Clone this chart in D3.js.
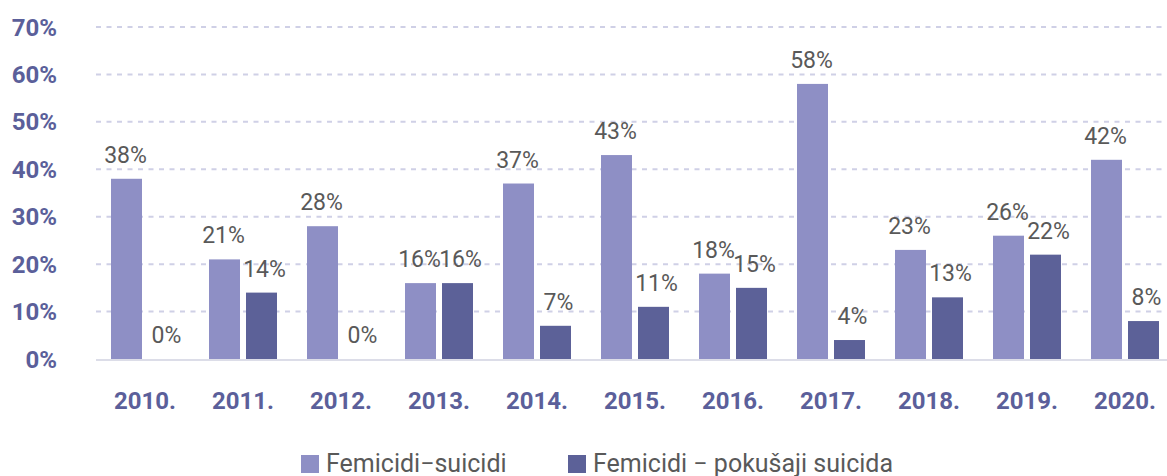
<!DOCTYPE html>
<html>
<head>
<meta charset="utf-8">
<script src="https://cdn.jsdelivr.net/npm/d3@7"></script>
<style>
  body { margin: 0; background: #fff; }
  text { font-family: Roboto, "Noto Sans", sans-serif; }
</style>
</head>
<body>
<div id="chart"></div>
<script>
// Data
const years = ["2010.", "2011.", "2012.", "2013.", "2014.", "2015.", "2016.", "2017.", "2018.", "2019.", "2020."];
const femicidiSuicidi = [38, 21, 28, 16, 37, 43, 18, 58, 23, 26, 42];
const femicidiPokusaji = [0, 14, 0, 16, 7, 11, 15, 4, 13, 22, 8];
const seriesNames = ["Femicidi\u2212suicidi", "Femicidi \u2212 poku\u0161aji suicida"];
const yTicks = [0, 10, 20, 30, 40, 50, 60, 70];

const width = 1167;
const height = 476;
const margin = {top: 27, right: 0, bottom: 117, left: 96};
const colors = ["#8e8fc5", "#5c6198"];
const axisColor = "#5b5f9a";
const labelColor = "#595959";

const svg = d3.select("#chart")
    .append("svg")
    .attr("width", width)
    .attr("height", height)
    .attr("viewBox", [0, 0, width, height]);

const x = d3.scaleBand()
    .domain(years)
    .range([margin.left, margin.left + 98 * years.length]);

const y = d3.scaleLinear()
    .domain([0, 70])
    .range([height - margin.bottom, margin.top]);

const barW = 31;
const barGap = 6;

// Gridlines
svg.append("g")
    .selectAll("line")
    .data(yTicks.filter(d => d > 0))
    .join("line")
    .attr("x1", margin.left)
    .attr("x2", width)
    .attr("y1", d => y(d))
    .attr("y2", d => y(d))
    .attr("stroke", "#cfd0e6")
    .attr("stroke-width", 2)
    .attr("stroke-dasharray", "5,5.5");

// Baseline
svg.append("line")
    .attr("x1", margin.left)
    .attr("x2", width)
    .attr("y1", y(0) + 1)
    .attr("y2", y(0) + 1)
    .attr("stroke", "#dcdde8")
    .attr("stroke-width", 2);

// Y axis labels
svg.append("g")
    .selectAll("text")
    .data(yTicks)
    .join("text")
    .attr("x", 57)
    .attr("y", d => y(d) + 8.5)
    .attr("text-anchor", "end")
    .attr("fill", axisColor)
    .attr("font-size", 24)
    .attr("font-weight", "bold")
    .text(d => d + "%");

// X axis labels
svg.append("g")
    .selectAll("text")
    .data(years)
    .join("text")
    .attr("x", d => x(d) + x.bandwidth() / 2)
    .attr("y", 409)
    .attr("text-anchor", "middle")
    .attr("fill", axisColor)
    .attr("font-size", 24)
    .attr("font-weight", "bold")
    .text(d => d);

// Bars
const series = [femicidiSuicidi, femicidiPokusaji];
const barX = (i, s) => x(years[i]) + x.bandwidth() / 2 + (s === 0 ? -barGap / 2 - barW : barGap / 2);

series.forEach((vals, s) => {
    const g = svg.append("g");
    g.selectAll("rect")
        .data(vals)
        .join("rect")
        .attr("x", (d, i) => barX(i, s))
        .attr("y", d => y(d))
        .attr("width", barW)
        .attr("height", d => y(0) - y(d))
        .attr("fill", colors[s]);
    g.selectAll("text")
        .data(vals)
        .join("text")
        .attr("x", (d, i) => barX(i, s) + barW / 2 + (s === 1 ? 3 : -1))
        .attr("y", d => y(d) - 16)
        .attr("text-anchor", "middle")
        .attr("fill", labelColor)
        .attr("font-size", 23)
        .text(d => d + "%");
});

// Legend
const legendX = [301, 568];
const legend = svg.append("g")
    .selectAll("g")
    .data(seriesNames)
    .join("g")
    .attr("transform", (d, i) => `translate(${legendX[i]},455)`);
legend.append("rect")
    .attr("width", 18)
    .attr("height", 18)
    .attr("fill", (d, i) => colors[i]);
legend.append("text")
    .attr("x", 25)
    .attr("y", 17)
    .attr("fill", labelColor)
    .attr("font-size", 25)
    .text(d => d);
</script>
</body>
</html>
